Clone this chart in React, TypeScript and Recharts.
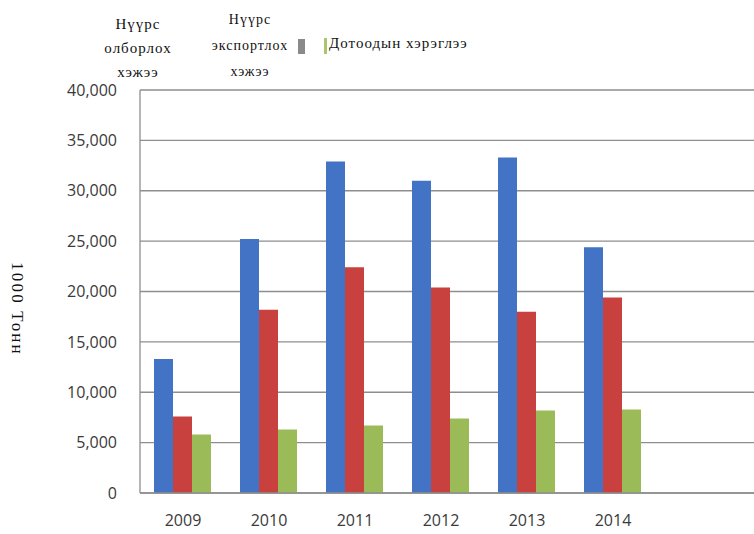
// App.tsx
// Нүүрс олборлолт, экспорт, дотоодын хэрэглээ (2009-2014), 1000 тонн

import { BarChart, Bar, XAxis, YAxis, CartesianGrid } from 'recharts'

const years = ['2009', '2010', '2011', '2012', '2013', '2014']
const mined = [13300, 25200, 32900, 31000, 33300, 24400]
const exported = [7600, 18200, 22400, 20400, 18000, 19400]
const domestic = [5800, 6300, 6700, 7400, 8200, 8300]
const yTicks = [0, 5000, 10000, 15000, 20000, 25000, 30000, 35000, 40000]

const chartData = years.map((year, i) => ({
  year,
  mined: mined[i],
  exported: exported[i],
  domestic: domestic[i],
}))

const serif = '"Liberation Serif", "DejaVu Serif", serif'
const tickStyle = { fontFamily: '"Open Sans", sans-serif', fontSize: 16, fill: '#3a3a3a' }

export default function App() {
  return (
    <div style={{ position: 'fixed', left: 0, top: 0, width: 754, height: 534, background: '#fff', overflow: 'hidden' }}>
      <BarChart
        width={754}
        height={534}
        data={chartData}
        margin={{ top: 90, right: 0, left: 80, bottom: 0 }}
        barGap={0}
        barCategoryGap={14}
      >
        <CartesianGrid vertical={false} stroke="#8e8e8e" strokeWidth={1.3} />
        <XAxis
          dataKey="year"
          height={41}
          padding={{ left: 0, right: 98 }}
          axisLine={{ stroke: '#8e8e8e', strokeWidth: 1.3 }}
          tickLine={false}
          tickMargin={16}
          tick={tickStyle}
        />
        <YAxis
          width={60}
          domain={[0, 40000]}
          ticks={yTicks}
          interval={0}
          axisLine={{ stroke: '#8e8e8e', strokeWidth: 1.3 }}
          tickLine={false}
          tickMargin={17}
          tick={tickStyle}
          tickFormatter={(v: number) => v.toLocaleString('en-US')}
        />
        <Bar dataKey="mined" fill="#4273c4" isAnimationActive={false} />
        <Bar dataKey="exported" fill="#c8413e" isAnimationActive={false} />
        <Bar dataKey="domestic" fill="#9bbb59" isAnimationActive={false} />
      </BarChart>

      {/* Y тэнхлэгийн нэр */}
      <div
        style={{
          position: 'absolute', left: 17, top: 309, transform: 'translate(-50%, -50%) rotate(90deg)',
          fontFamily: serif, fontSize: 17, letterSpacing: 2.2, whiteSpace: 'nowrap', color: '#111',
        }}
      >
        1000 Тонн
      </div>

      {/* Тайлбар */}
      <div
        style={{
          position: 'absolute', left: 98, top: 12, width: 80, textAlign: 'center',
          fontFamily: serif, fontSize: 15, letterSpacing: 1, lineHeight: '24px', color: '#111',
        }}
      >
        Нүүрс<br />олборлох<br />хэжээ
      </div>
      <div
        style={{
          position: 'absolute', left: 205, top: 7, width: 90, textAlign: 'center', background: '#fff',
          fontFamily: serif, fontSize: 14, letterSpacing: 1, lineHeight: '26px', color: '#111',
        }}
      >
        Нүүрс<br />экспортлох<br />хэжээ
      </div>
      <div style={{ position: 'absolute', left: 298, top: 39, width: 7, height: 15, background: '#8a8a8a' }} />
      <div style={{ position: 'absolute', left: 324, top: 38, width: 3, height: 16, background: '#a8c66a' }} />
      <div
        style={{
          position: 'absolute', left: 329, top: 35, fontFamily: serif, fontSize: 15,
          letterSpacing: 1, whiteSpace: 'nowrap', color: '#111',
        }}
      >
        Дотоодын хэрэглээ
      </div>
    </div>
  )
}
